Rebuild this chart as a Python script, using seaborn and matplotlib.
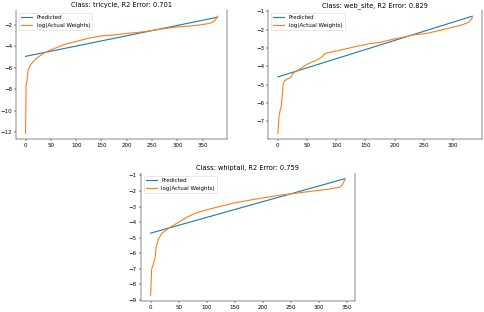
import matplotlib
matplotlib.use("Agg")
import matplotlib.pyplot as plt
import seaborn as sns
import pandas as pd

# values
classes = ["tricycle", "web_site", "whiptail"]
r2_errors = [0.701, 0.829, 0.759]

tricycle_x = [0, 1, 3, 5, 8, 12, 16, 22, 28, 40, 46, 60, 79, 100, 125, 148, 175,
              201, 225, 248, 275, 300, 330, 354, 365, 372, 376, 379]
tricycle_actual = [-12.1, -7.7, -7.2, -6.2, -5.9, -5.6, -5.4, -5.1, -4.9, -4.55,
                   -4.4, -4.15, -3.8, -3.55, -3.25, -3.05, -2.95, -2.8, -2.7,
                   -2.55, -2.35, -2.2, -2.1, -1.95, -1.85, -1.7, -1.5, -1.2]
tricycle_pred_x = [0, 190, 379]
tricycle_pred = [-4.94, -3.12, -1.30]

web_site_x = [0, 1, 2, 4, 6, 8, 9, 11, 16, 22, 27, 33, 40, 47, 53, 62, 70, 75, 81,
              95, 110, 130, 155, 175, 201, 215, 230, 253, 270, 293, 315, 327, 333]
web_site_actual = [-7.65, -7.2, -6.7, -6.4, -6.15, -5.4, -5.0, -4.8, -4.7, -4.6,
                   -4.35, -4.25, -4.1, -3.95, -3.85, -3.72, -3.6, -3.5, -3.3,
                   -3.2, -3.1, -2.95, -2.78, -2.7, -2.5, -2.42, -2.3, -2.22,
                   -2.1, -1.92, -1.75, -1.6, -1.35]
web_site_pred_x = [0, 166, 333]
web_site_pred = [-4.58, -2.93, -1.27]

whiptail_x = [0, 1, 2, 5, 8, 10, 14, 20, 32, 49, 64, 82, 112, 148, 183, 231, 273,
              314, 338, 343, 345, 347]
whiptail_actual = [-8.7, -7.9, -7.0, -6.7, -6.3, -5.6, -5.1, -4.73, -4.4, -4.03,
                   -3.7, -3.4, -3.1, -2.78, -2.55, -2.27, -2.08, -1.9, -1.76,
                   -1.55, -1.4, -1.28]
whiptail_pred_x = [0, 173, 347]
whiptail_pred = [-4.71, -2.96, -1.21]

series = [
    (tricycle_x, tricycle_actual, tricycle_pred_x, tricycle_pred),
    (web_site_x, web_site_actual, web_site_pred_x, web_site_pred),
    (whiptail_x, whiptail_actual, whiptail_pred_x, whiptail_pred),
]

fig = plt.figure(figsize=(12.1, 7.8), dpi=40)
axes = [
    fig.add_axes([0.033, 0.554, 0.436, 0.413]),
    fig.add_axes([0.554, 0.554, 0.442, 0.413]),
    fig.add_axes([0.291, 0.035, 0.442, 0.411]),
]

blue, orange = sns.color_palette("tab10")[:2]

for ax, name, r2, (xa, ya, xp, yp) in zip(axes, classes, r2_errors, series):
    pred = pd.DataFrame({"x": xp, "y": yp})
    act = pd.DataFrame({"x": xa, "y": ya})
    sns.lineplot(data=pred, x="x", y="y", ax=ax, color=blue, lw=2,
                 label="Predicted")
    sns.lineplot(data=act, x="x", y="y", ax=ax, color=orange, lw=2,
                 label="log(Actual Weights)")
    ax.set_title(f"Class: {name}, R2 Error: {r2}")
    ax.set_xlabel("")
    ax.set_ylabel("")
    ax.spines["top"].set_visible(False)
    ax.legend(loc="upper left")

fig.savefig("out.png", dpi=40)
